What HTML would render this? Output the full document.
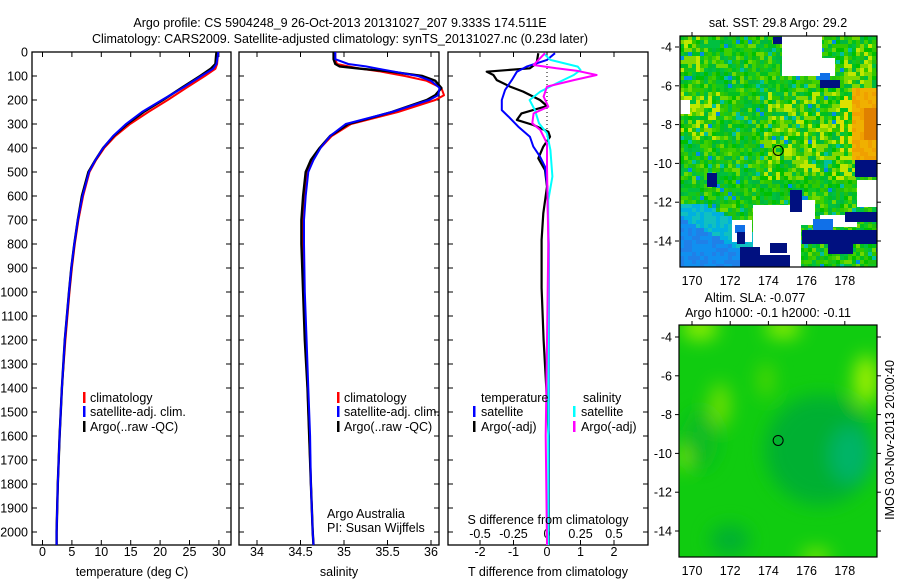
<!DOCTYPE html>
<html><head><meta charset="utf-8">
<style>
body{margin:0;background:#fff;}
svg{display:block;font-family:"Liberation Sans",sans-serif;font-size:12.5px;}
</style></head>
<body>
<svg id="c" width="900" height="580" viewBox="0 0 900 580">
<defs>
<filter id="bl" x="-50%" y="-50%" width="200%" height="200%"><feGaussianBlur stdDeviation="9"/></filter>
<clipPath id="cm2"><rect x="679" y="325" width="198" height="232"/></clipPath>
<clipPath id="cm1"><rect x="680" y="36" width="197" height="231"/></clipPath>
</defs>
<text x="340" y="27" text-anchor="middle">Argo profile: CS 5904248_9 26-Oct-2013 20131027_207 9.333S 174.511E</text>
<text x="340" y="43" text-anchor="middle">Climatology: CARS2009. Satellite-adjusted climatology: synTS_20131027.nc (0.23d later)</text>
<g id="g"></g>
</svg>
<script>
// ---- data ----
const depthT = [0,20,50,70,100,150,200,250,300,350,400,450,500,600,700,800,900,1000,1200,1400,1600,1800,2000,2054];
const tempArgo = [29.6,29.5,29.4,28.6,26.8,23.6,20.5,17.2,14.4,12.1,10.3,9.0,7.8,6.7,6.0,5.4,4.9,4.5,3.8,3.3,2.9,2.6,2.4,2.4];
const tempClim = [29.9,29.8,29.7,29.4,27.6,24.4,21.3,18.0,14.9,12.4,10.5,9.1,8.0,6.9,6.1,5.5,5.0,4.6,3.9,3.3,2.9,2.6,2.4,2.4];
const tempSat  = [29.9,29.8,29.6,29.0,27.0,23.8,20.3,16.9,14.2,12.0,10.3,9.0,7.9,6.8,6.0,5.4,4.9,4.5,3.8,3.3,2.9,2.6,2.4,2.4];
const depthS = [0,30,50,60,70,80,100,120,150,180,200,250,300,350,400,450,500,600,700,800,1000,1200,1400,1600,1800,2000,2054];
const salArgo = [34.88,34.88,34.9,34.95,35.2,35.5,35.9,36.05,36.12,36.05,35.95,35.55,35.05,34.84,34.72,34.62,34.56,34.53,34.51,34.51,34.53,34.55,34.58,34.6,34.62,34.64,34.65];
const salClim = [34.9,34.9,34.92,35.05,35.2,35.4,35.7,35.95,36.12,36.15,36.05,35.62,35.08,34.86,34.73,34.64,34.58,34.55,34.53,34.53,34.54,34.56,34.58,34.6,34.62,34.64,34.65];
const salSat  = [34.9,34.9,35.05,35.25,35.4,35.55,35.85,36.0,36.1,36.08,35.98,35.55,35.02,34.84,34.73,34.65,34.59,34.56,34.54,34.54,34.55,34.57,34.59,34.61,34.62,34.64,34.65];
const dT_depth = [5,47,68,82,96,117,144,165,200,225,256,283,304,332,353,394,443,492,561,672,783,983,1200,1400,1600,1800,2054];
const dT_argo  = [-0.26,-0.31,-0.51,-1.8,-1.6,-1.5,-1.1,-0.71,-0.21,0,-0.76,-0.9,-0.41,0.04,0.09,-0.11,-0.26,-0.06,0,-0.11,-0.16,-0.16,-0.1,-0.02,0.05,0.05,0.05];
const dTs_depth = [5,33,61,82,117,158,200,242,269,311,353,394,436,478,561,800,1200,1600,2054];
const dT_sat   = [0.24,0,-0.61,-0.9,-1.05,-1.25,-1.35,-1.35,-1.15,-0.86,-0.51,-0.41,-0.21,-0.06,0.01,0.05,0.05,0.05,0.04];
const dS_depth = [5,54,68,78,96,117,144,186,228,256,297,325,381,478,800,1200,1600,2054];
const dS_argo  = [-0.015,-0.1,0.07,0.22,0.37,0.2,0,-0.025,0.01,-0.1,-0.11,-0.05,0,0,0.01,0.0,-0.01,0.0];
const dSs_depth = [5,33,61,75,96,131,165,200,242,297,339,408,519,617,900,1300,1700,2054];
const dS_sat   = [-0.025,0.025,0.23,0.25,0.2,0.07,-0.05,-0.13,-0.09,-0.06,0,0.025,0.04,0.01,0.01,0.01,0.01,0.01];
const depthTicks = [0,100,200,300,400,500,600,700,800,900,1000,1100,1200,1300,1400,1500,1600,1700,1800,1900,2000];
const tempTicks = [0,5,10,15,20,25,30];
const salTicks = [34,34.5,35,35.5,36];
const salTickLabels = ["34","34.5","35","35.5","36"];
const dTTicks = [-2,-1,0,1,2];
const dSTicks = [-0.5,-0.25,0,0.25,0.5];
const lonTicks = [170,172,174,176,178];
const latTicks = [-4,-6,-8,-10,-12,-14];
const argoLon = 174.51, argoLat = -9.333;

const NS="http://www.w3.org/2000/svg";
const G=document.getElementById('g');
function mk(tag,at,par){const e=document.createElementNS(NS,tag);for(const k in at)e.setAttribute(k,at[k]);(par||G).appendChild(e);return e;}
const yD=d=>52+d*0.24;
const xTemp=t=>42.5+t*5.88;
const xSal=s=>257+(s-34)*87;
const xDT=t=>547+t*33.5;
const xDS=s=>547+s*134;
const xLon=l=>692+(l-170)*19.1;
const yLat1=l=>47+(-4-l)*19.4;
const yLat2=l=>337+(-4-l)*19.4;

function line(xs,ys,col,w,name){
  let p=xs.map((x,i)=>(i?'L':'M')+x.toFixed(1)+' '+ys[i].toFixed(1)).join('');
  const e=mk('path',{d:p,fill:'none',stroke:col,'stroke-width':w,'stroke-linejoin':'round'});
  
  
}
function panel(x0,x1,name){
  const r=mk('rect',{x:x0,y:52,width:x1-x0,height:493,fill:'none',stroke:'#000','stroke-width':1.3});
  
  
  depthTicks.forEach(d=>{
    mk('line',{x1:x0,x2:x0+5,y1:yD(d),y2:yD(d),stroke:'#000'});
    mk('line',{x1:x1,x2:x1-5,y1:yD(d),y2:yD(d),stroke:'#000'});
  });
}
function xticks(vals,fx,labels,ly,name){
  vals.forEach((v,i)=>{
    const x=fx(v);
    mk('line',{x1:x,x2:x,y1:545,y2:540,stroke:'#000'});
    mk('line',{x1:x,x2:x,y1:52,y2:57,stroke:'#000'});
    if(labels){const t=mk('text',{x:x,y:ly,'text-anchor':'middle'});t.textContent=labels[i];
      
      }
  });
}
function txt(x,y,s,name,anchor,col){const t=mk('text',{x:x,y:y,'text-anchor':anchor||'start',fill:col||'#000'});t.textContent=s;
  
  return t;}
function legBar(x,y,col){mk('rect',{x:x,y:y-10,width:2.5,height:11,fill:col});}

// depth labels
depthTicks.forEach(d=>{const t=txt(28,yD(d)+4.5,String(d),'depth-tick-label','end');});

// Panel 1 temperature
panel(32,231,'temperature-panel');
xticks(tempTicks,xTemp,tempTicks.map(String),556,'temperature-tick-label');
line(tempClim.map(xTemp),depthT.map(yD),'#f00',2,'temp-climatology-line');
line(tempArgo.map(xTemp),depthT.map(yD),'#000',2.4,'temp-argo-line');
line(tempSat.map(xTemp),depthT.map(yD),'#00f',2,'temp-satellite-line');
txt(132,576,'temperature (deg C)','temperature-axis-title','middle');
legBar(83,402,'#f00');txt(90,402,'climatology','legend-climatology');
legBar(83,416,'#00f');txt(90,416,'satellite-adj. clim.','legend-satellite-adj');
legBar(83,431,'#000');txt(90,431,'Argo(..raw -QC)','legend-argo');

// Panel 2 salinity
panel(239,439,'salinity-panel');
xticks(salTicks,xSal,salTickLabels,556,'salinity-tick-label');
line(salClim.map(xSal),depthS.map(yD),'#f00',2,'sal-climatology-line');
line(salArgo.map(xSal),depthS.map(yD),'#000',2.4,'sal-argo-line');
line(salSat.map(xSal),depthS.map(yD),'#00f',2,'sal-satellite-line');
txt(339,576,'salinity','salinity-axis-title','middle');
legBar(337,402,'#f00');txt(344,402,'climatology','legend-climatology');
legBar(337,416,'#00f');txt(344,416,'satellite-adj. clim.','legend-satellite-adj');
legBar(337,431,'#000');txt(344,431,'Argo(..raw -QC)','legend-argo');
txt(327,518,'Argo Australia','credit-line-1');
txt(327,532,'PI: Susan Wijffels','credit-line-2');

// Panel 3 differences
panel(448,648,'difference-panel');
xticks(dTTicks,xDT,dTTicks.map(String),556,'t-diff-tick-label');
dSTicks.forEach(s=>{const t=txt(xDS(s),538,String(s),'s-diff-tick-label','middle');});
mk('line',{x1:xDT(0),x2:xDT(0),y1:52,y2:yD(420),stroke:'#000','stroke-dasharray':'1 3'});
line(dT_argo.map(xDT),dT_depth.map(yD),'#000',2.2,'t-diff-argo-line');
line(dT_sat.map(xDT),dTs_depth.map(yD),'#00f',2,'t-diff-satellite-line');
line(dS_sat.map(xDS),dSs_depth.map(yD),'#0ff',2,'s-diff-satellite-line');
line(dS_argo.map(xDS),dS_depth.map(yD),'#f0f',2,'s-diff-argo-line');
txt(548,576,'T difference from climatology','t-diff-axis-title','middle');
txt(548,524,'S difference from climatology','s-diff-axis-title','middle');
txt(481,402,'temperature','legend-temperature-header');
txt(583,402,'salinity','legend-salinity-header');
legBar(473,416,'#00f');txt(481,416,'satellite','legend-t-satellite');
legBar(473,431,'#000');txt(481,431,'Argo(-adj)','legend-t-argo');
legBar(573,416,'#0ff');txt(581,416,'satellite','legend-s-satellite');
legBar(573,431,'#f0f');txt(581,431,'Argo(-adj)','legend-s-argo');

// ---- SST map (image texture) ----
const m1=mk('g',{'clip-path':'url(#cm1)'});


function h(i,j){let v=Math.sin(i*12.9898+j*78.233)*43758.5453;return v-Math.floor(v);}
const greens=['#00c020','#10c820','#00c000','#30c800','#00c040','#40d000','#00b840','#20c010'];
const cs=4;
for(let j=0;j<58;j++)for(let i=0;i<50;i++){
  const x=680+i*cs,y=36+j*cs,r=h(i,j);
  let c=greens[Math.floor(r*greens.length)];
  const yl=h(i+3,j+7);
  if((x>760&&x<860&&y>90&&y<180&&yl<0.45)||(x>840&&x<870&&y>40&&y<90&&yl<0.5)||(x<700&&y<70&&yl<0.5)||(x<720&&y>90&&y<140&&yl<0.4)) c=yl<0.2?'#c0e800':'#80d800';
  else if(yl<0.12) c='#70d800';
  if(yl>0.95) c='#00c0a0';
  if(yl>0.985) c='#0090e0';
  if(x>848&&y>85&&y<160){c=(x>862&&y>105&&y<140)?'#e08000':(yl<0.5?'#f0b000':'#f0a000');}
  if(x>838&&x<850&&y>90&&y<150&&yl<0.5)c='#e0e000';
  if(y>200&&x<760){const t=(y-200)/67+(760-x)/120;c=t>0.9?(r<0.5?'#1090f0':'#2080e8'):(t>0.5?(r<0.5?'#00b0e0':'#10c0c0'):c);}
  mk('rect',{x:x,y:y,width:cs+0.5,height:cs+0.5,fill:c},m1);
}
const whites=[[782,36,40,40],[820,58,15,18],[680,100,10,14],[753,205,48,62],[800,200,15,25],[857,180,20,27],[820,215,37,12],[732,220,20,22]];
whites.forEach(w=>mk('rect',{x:w[0],y:w[1],width:w[2],height:w[3],fill:'#fff'},m1));
const blues=[[813,219,20,11],[820,73,10,10],[735,225,10,8]];
blues.forEach(w=>mk('rect',{x:w[0],y:w[1],width:w[2],height:w[3],fill:'#1070e8'},m1));
const navies=[[855,160,22,17],[802,230,75,14],[828,240,25,14],[770,243,17,10],[740,247,20,20],[755,255,35,12],[790,190,12,22],[707,173,10,14],[820,80,20,8],[773,37,9,7],[845,212,32,10],[737,232,8,12]];
navies.forEach(w=>mk('rect',{x:w[0],y:w[1],width:w[2],height:w[3],fill:'#001080'},m1));
mk('rect',{x:680,y:36,width:197,height:231,fill:'none',stroke:'#000','stroke-width':1.2});
mk('circle',{cx:xLon(argoLon),cy:yLat1(argoLat),r:5,fill:'none',stroke:'#000','stroke-width':1});

// ---- SLA map ----
const m2=mk('g',{'clip-path':'url(#cm2)'});


mk('rect',{x:679,y:325,width:198,height:232,fill:'#10cc10'},m2);
const gb=mk('g',{filter:'url(#bl)'},m2);
mk('ellipse',{cx:820,cy:450,rx:55,ry:55,fill:'#00b030'},gb);
mk('ellipse',{cx:850,cy:455,rx:20,ry:28,fill:'#00b468'},gb);
mk('ellipse',{cx:730,cy:540,rx:20,ry:15,fill:'#00b030'},gb);
mk('ellipse',{cx:700,cy:440,rx:18,ry:30,fill:'#08bc20'},gb);
mk('ellipse',{cx:700,cy:328,rx:18,ry:12,fill:'#90ee00'},gb);
mk('ellipse',{cx:783,cy:328,rx:18,ry:10,fill:'#90ee00'},gb);
mk('ellipse',{cx:866,cy:380,rx:12,ry:25,fill:'#a0f000'},gb);
mk('ellipse',{cx:720,cy:405,rx:10,ry:22,fill:'#70e000'},gb);
mk('ellipse',{cx:766,cy:380,rx:8,ry:18,fill:'#50d800'},gb);
mk('ellipse',{cx:683,cy:458,rx:6,ry:12,fill:'#80e800'},gb);
mk('ellipse',{cx:816,cy:557,rx:15,ry:8,fill:'#80e800'},gb);
mk('rect',{x:679,y:325,width:198,height:232,fill:'none',stroke:'#000','stroke-width':1.2});
mk('circle',{cx:xLon(argoLon),cy:yLat2(argoLat),r:5,fill:'none',stroke:'#000','stroke-width':1});

// map ticks
function mapTicks(yl,top,bot){
  lonTicks.forEach(l=>{const x=xLon(l);
    mk('line',{x1:x,x2:x,y1:top,y2:top-4,stroke:'#000'});
    txt(x,bot+18,String(l),'longitude-tick-label','middle');});
  latTicks.forEach(l=>{const y=yl(l);
    mk('line',{x1:679,x2:675,y1:y,y2:y,stroke:'#000'});
    mk('line',{x1:877,x2:881,y1:y,y2:y,stroke:'#000'});
    txt(672,y+4.5,String(l),'latitude-tick-label','end');});
}
mapTicks(yLat1,36,267);
mapTicks(yLat2,325,557);
txt(778,27,'sat. SST: 29.8 Argo: 29.2','sst-map-title','middle');
txt(755,302,'Altim. SLA: -0.077','sla-map-title','middle');
txt(768,317,'Argo h1000: -0.1 h2000: -0.11','sla-map-subtitle','middle');
const rt=txt(0,0,'IMOS 03-Nov-2013 20:00:40','timestamp-label','middle');
rt.setAttribute('transform','translate(894,440) rotate(-90)');
</script>
</body></html>
